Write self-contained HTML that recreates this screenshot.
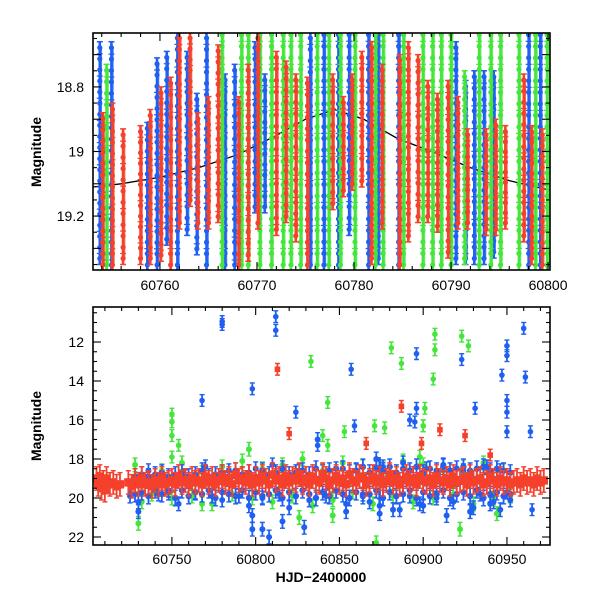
<!DOCTYPE html>
<html><head><meta charset="utf-8"><style>
html,body{margin:0;padding:0;background:#fff;}
svg{display:block;font-family:"Liberation Sans",sans-serif;}
</style></head><body>
<svg id="chart" width="600" height="600" viewBox="0 0 600 600" xmlns="http://www.w3.org/2000/svg">
<rect width="600" height="600" fill="#fff"/>
<g id="top-panel"></g>
<g id="bottom-panel"></g>
</svg>
<script>
// ---------- TOP PANEL DATA (columns: date, faint/bright limits) ----------
const topBlueDates=[60753.8,60755.0,60758.7,60759.7,60760.7,60761.8,60762.8,60763.8,60764.8,60766.7,60767.7,60769.8,60770.8,60775.5,60776.9,60778.4,60779.5,60781.5,60782.5,60784.6,60790.5,60791.5,60792.4,60793.4,60794.4,60798.0,60799.2];
const topBlueLo=[18.66,18.66,18.91,18.71,18.69,18.63,18.69,18.82,18.63,18.76,18.73,18.66,18.76,18.63,18.62,18.62,18.62,18.62,18.62,18.62,18.66,18.78,18.75,18.75,18.75,18.62,18.62];
const topBlueHi=[19.35,19.37,19.37,19.37,19.29,19.37,19.26,19.32,19.37,19.37,19.37,19.19,19.19,19.37,19.37,19.37,19.26,19.37,19.35,19.37,19.35,19.35,19.35,19.35,19.33,19.37,19.37];
const topRedDates=[60754.1,60755.1,60756.2,60758.0,60759.0,60760.1,60761.1,60762.0,60763.1,60763.9,60765.0,60766.0,60768.1,60769.1,60770.1,60772.0,60773.0,60774.0,60775.2,60777.8,60778.9,60779.8,60780.8,60781.8,60782.9,60784.7,60785.6,60786.6,60787.6,60788.6,60789.7,60790.7,60791.7,60793.6,60794.6,60795.6,60797.5,60798.3,60799.4];
const topRedLo=[18.88,18.85,18.93,18.92,18.87,18.80,18.77,18.63,18.63,18.88,18.83,18.67,18.83,18.73,18.63,18.69,18.72,18.76,18.77,18.76,18.83,18.76,18.69,18.66,18.73,18.70,18.66,18.70,18.78,18.82,18.78,18.83,18.93,18.93,18.90,18.92,18.76,18.92,18.93];
const topRedHi=[19.37,19.37,19.35,19.35,19.35,19.34,19.37,19.24,19.17,19.24,19.24,19.22,19.37,19.34,19.24,19.26,19.22,19.28,19.37,19.18,19.14,19.12,19.11,19.35,19.24,19.37,19.28,19.22,19.22,19.25,19.33,19.24,19.24,19.26,19.26,19.24,19.28,19.35,19.37];
const topGreenDates=[60754.5,60766.4,60768.4,60769.1,60770.3,60771.5,60772.7,60773.5,60774.5,60776.2,60777.4,60778.6,60780.1,60782.2,60783.0,60785.1,60787.1,60788.1,60789.0,60790.0,60791.4,60792.9,60794.1,60795.1,60797.0,60798.7,60799.9];
const topGreenLo=[18.73,18.62,18.62,18.62,18.62,18.62,18.62,18.62,18.62,18.62,18.62,18.62,18.62,18.62,18.62,18.62,18.62,18.62,18.62,18.62,18.75,18.62,18.62,18.62,18.62,18.62,18.62];
const topGreenHi=[19.37,19.37,19.37,19.37,19.37,19.37,19.37,19.37,19.37,19.37,19.37,19.37,19.37,19.37,19.37,19.37,19.37,19.37,19.37,19.37,19.35,19.37,19.37,19.37,19.37,19.37,19.37];
const modelDates=[60753.1,60756,60760,60764,60768,60772,60775,60778,60781,60784.5,60788,60792,60796,60800.2];
const modelMags=[19.11,19.10,19.08,19.05,19.01,18.95,18.90,18.87,18.90,18.96,19.00,19.05,19.09,19.12];
const topXTicks=[60760,60770,60780,60790,60800];
const topXLabels=["60760","60770","60780","60790","60800"];
const topYTicks=[18.8,19.0,19.2];
const topYLabels=["18.8","19","19.2"];

// ---------- BOTTOM PANEL DATA ----------
const redDates=[60705,60706,60707,60708,60709,60710,60711,60713,60715,60717,60719,
60724,60726,60728,60730,60732,60734,60736,60738,60740,60742,60744,60746,60748,60750,60752,60754,60756,60758,60760,60762,60764,60766,60768,60770,60772,60774,60776,60778,60780,60782,60784,60786,60788,60790,60792,60794,60796,60798,60800,60802,60804,60806,60808,60810,60812,60814,60816,60818,60820,60822,60824,60826,60828,60830,60832,60834,60836,60838,60840,60842,60844,60846,60848,60850,60852,60854,60856,60858,60860,60862,60864,60866,60868,60870,60872,60874,60876,60878,60880,60882,60884,60886,60888,60890,60892,60894,60896,60898,60900,60902,60904,60906,60908,60910,60912,60914,60916,60918,60920,60922,60924,60926,60928,60930,60932,60934,60936,60938,60940,60942,60944,60946,60948,60950,60952,60954,60956,60958,60960,60962,60964,60966,60968,60970,60972];
const redMags=[19.0,19.3,18.9,19.5,19.2,19.6,19.0,19.3,19.2,19.4,19.3,
19.2,19.4,19.1,19.3,19.0,19.3,19.2,19.4,19.1,19.3,19.0,19.3,19.2,19.1,19.3,18.9,19.2,19.1,19.3,19.0,19.2,19.1,19.3,18.9,19.2,19.0,19.3,19.1,18.9,19.2,19.0,19.3,18.8,19.1,19.0,19.2,18.9,19.3,19.0,19.2,18.9,19.1,19.3,18.8,19.1,19.0,19.3,18.9,19.2,19.0,19.1,18.8,19.2,19.0,19.3,18.9,19.1,19.2,18.8,19.0,19.3,19.1,18.9,19.2,19.0,19.3,18.8,19.1,19.2,18.9,19.0,19.3,19.1,18.9,19.2,19.0,19.3,19.1,18.8,19.2,19.0,19.3,19.1,18.9,19.2,19.0,19.3,18.9,19.1,19.2,19.0,19.3,18.9,19.1,19.2,19.0,19.3,18.9,19.2,19.1,19.0,19.3,18.9,19.2,19.1,19.0,19.3,19.2,18.9,19.1,19.3,19.0,19.2,19.1,19.3,19.2,
19.1,19.3,19.0,19.2,19.1,19.3,19.0,19.2,19.1];
const redOutDates=[60813,60820,60887,60899,60910,60925,60940,60866];
const redOutMags=[13.4,16.7,15.3,17.2,16.5,16.8,17.8,17.2];
const blueDenseDates=[60728,60732,60736,60740,60744,60748,60752,60756,60760,60764,60768,60772,60776,60780,60784,60788,60792,60796,60800,60804,60808,60812,60816,60820,60824,60828,60832,60836,60840,60844,60848,60852,60856,60860,60864,60868,60872,60876,60880,60884,60888,60892,60896,60900,60904,60908,60912,60916,60920,60924,60928,60932,60936,60940,60944,60948,60952];
const blueDenseLow=[19.8,19.7,19.9,19.6,19.8,19.7,20.0,19.6,19.9,19.7,19.8,19.6,20.0,19.7,19.8,19.9,19.6,20.0,19.7,19.9,19.8,19.6,20.0,19.7,19.9,19.6,19.8,20.0,19.7,19.9,19.6,19.8,20.0,19.7,19.9,19.8,19.6,20.0,19.7,19.9,19.8,19.6,20.0,19.7,19.9,19.8,19.6,20.0,19.8,19.7,19.9,19.6,20.0,19.8,19.7,19.9,19.8];
const blueDenseHigh=[18.9,18.8,18.9,18.8,18.7,18.9,18.8,18.7,18.9,18.8,18.6,18.9,18.8,18.7,18.9,18.6,18.8,18.7,18.9,18.6,18.8,18.7,18.5,18.8,18.7,18.6,18.8,18.5,18.7,18.6,18.8,18.5,18.7,18.6,18.4,18.7,18.5,18.6,18.4,18.7,18.5,18.6,18.4,18.7,18.5,18.6,18.4,18.6,18.5,18.4,18.6,18.5,18.4,18.6,18.5,18.6,18.7];
const blueDates=[60725,60730,60730,60736,60742,60748,60754,60758,60764,60770,60774,60780,60784,60790,60796,60800,60804,60810,60814,60820,60826,60832,60837,60842,60848,60854,60860,60864,60868,60872,60874,60874,60876,60882,60888,60892,60898,60902,60908,60912,60918,60924,60930,60934,60938,60942,60946,60950,60952,60798,60798,60804,60808,60816,60829,60854,60874,60886,60900,60914,60928,60940,60946];
const blueMags=[19.9,20.7,20.2,18.6,19.8,19.6,20.3,18.9,19.7,18.4,19.9,20.1,18.6,19.9,20.4,18.5,20.0,18.3,19.8,20.5,18.6,20.1,17.0,19.9,18.5,20.3,18.6,19.8,20.2,18.0,20.4,19.0,18.4,20.6,18.2,19.9,20.3,18.5,20.0,18.3,20.2,18.6,20.5,19.8,18.4,20.2,18.6,19.7,20.1,21.6,20.9,21.6,22.0,21.2,21.5,20.7,20.8,20.6,20.4,20.9,20.7,20.3,20.6];
const blueOutDates=[60780,60780,60812,60812,60768,60798,60824,60837,60857,60859,60896,60896,60923,60931,60947,60950,60950,60950,60950,60950,60960,60961,60964,60965,60895,60892];
const blueOutMags=[11.1,10.95,10.7,11.4,15.0,14.4,15.6,17.3,13.4,16.3,12.6,15.4,12.9,15.4,13.7,12.2,12.7,15.0,15.6,16.6,11.3,13.8,16.6,20.6,16.1,16.0];
const greenDates=[60728,60732,60738,60744,60750,60756,60762,60768,60774,60780,60786,60792,60798,60804,60810,60816,60822,60828,60834,60840,60846,60852,60858,60864,60870,60876,60882,60888,60894,60900,60906,60912,60918,60924,60930,60936,60942,60948,60952,60730,60768,60796,60826,60846,60872,60898,60922,60944];
const greenMags=[18.3,20.2,19.8,18.6,20.0,18.2,19.9,18.7,20.3,18.4,19.8,18.1,20.0,18.5,20.2,18.3,19.9,18.0,20.4,18.6,20.1,18.2,19.7,18.4,20.3,18.5,19.9,18.1,20.2,18.3,20.0,18.6,19.8,18.4,20.3,18.2,20.0,18.6,19.9,21.3,20.3,17.5,21.0,20.9,22.3,17.9,21.6,20.8];
const greenOutDates=[60750,60750,60750,60754,60750,60833,60843,60843,60840,60881,60887,60907,60907,60906,60923,60927,60871,60877,60853,60901,60900,60900];
const greenOutMags=[15.7,16.1,16.8,17.3,17.9,13.0,15.1,17.3,16.8,12.3,13.1,11.6,12.4,13.9,11.7,12.2,16.3,16.4,16.6,15.4,16.3,16.3];
const streakDate=60874;
const streakRange=[17.9,20.4];
const botXTicks=[60750,60800,60850,60900,60950];
const botXLabels=["60750","60800","60850","60900","60950"];
const botYTicks=[12,14,16,18,20,22];
const botYLabels=["12","14","16","18","20","22"];

const NS="http://www.w3.org/2000/svg";
const BLUE="#1f5ff2",RED="#f5402c",GREEN="#45e63c";
function mk(tag,attrs,parent){const e=document.createElementNS(NS,tag);for(const k in attrs)e.setAttribute(k,attrs[k]);parent.appendChild(e);return e;}
function lin(d0,d1,r0,r1){return v=>r0+(v-d0)/(d1-d0)*(r1-r0);}

// ---------- TOP PANEL ----------
const T={l:93,r:550,t:33,b:270};
const tx=lin(60753.1,60800.2,T.l,T.r), ty=lin(18.633,19.367,T.t,T.b);
const topG=document.getElementById('top-panel');
const cpT=mk('clipPath',{id:'clipT'},topG);
mk('rect',{x:T.l,y:T.t,width:T.r-T.l,height:T.b-T.t},cpT);
const topData=mk('g',{'clip-path':'url(#clipT)'},topG);


let dpath='';modelDates.forEach((d,i)=>{dpath+=(i?'L':'M')+tx(d).toFixed(1)+' '+ty(modelMags[i]).toFixed(1);});
const curve=mk('path',{d:dpath,fill:'none',stroke:'#000','stroke-width':1.3},topData);


function drawColumns(dates,lo,hi,color,name){
  const g=mk('g',{},topData);
  
  
  dates.forEach((d,i)=>{
    const x=tx(d),y0=ty(lo[i]),y1=ty(hi[i]);
    const c=mk('g',{},g);
    
    
    mk('line',{x1:x,x2:x,y1:y0,y2:y1,stroke:color,'stroke-width':2.6},c);
    mk('line',{x1:x+1.6,x2:x+1.6,y1:y0+6,y2:y1-6,stroke:color,'stroke-width':1.3,opacity:0.8},c);
    mk('line',{x1:x-3,x2:x+3,y1:y0,y2:y0,stroke:color,'stroke-width':1.5},c);
    mk('line',{x1:x-3,x2:x+3,y1:y1,y2:y1,stroke:color,'stroke-width':1.5},c);
    const n=Math.max(2,Math.round((y1-y0)/12));
    for(let k=0;k<=n;k++){
      const yy=y0+6+(y1-y0-12)*k/n;
      mk('circle',{cx:x,cy:yy,r:2.6,fill:color},c);
      if(k%2) mk('line',{x1:x-3,x2:x+3,y1:yy-5,y2:yy-5,stroke:color,'stroke-width':1.2},c);
    }
  });
}
drawColumns(topBlueDates,topBlueLo,topBlueHi,BLUE,'top-blue-series');
drawColumns(topGreenDates,topGreenLo,topGreenHi,GREEN,'top-green-series');
drawColumns(topRedDates,topRedLo,topRedHi,RED,'top-red-series');

function frame(g,P,xTicks,xs,ys,xMinor,xMinorStep,yMinorRange,yMinorStep,yMajStep){
  const f=mk('rect',{x:P.l,y:P.t,width:P.r-P.l,height:P.b-P.t,fill:'none',stroke:'#000','stroke-width':1.6},g);
  
  
  const tk=mk('g',{stroke:'#000','stroke-width':1.1},g);
  
  
  for(let v=xMinor[0];v<=xMinor[1]+1e-9;v+=xMinorStep){
    const x=xs(v); if(x<P.l-0.5||x>P.r+0.5) continue;
    const isMaj=xTicks.some(t=>Math.abs(t-v)<1e-6);
    const L=isMaj?8:4;
    mk('line',{x1:x,x2:x,y1:P.b,y2:P.b-L},tk);mk('line',{x1:x,x2:x,y1:P.t,y2:P.t+L},tk);
  }
  for(let v=yMinorRange[0];v<=yMinorRange[1]+1e-9;v+=yMinorStep){
    const y=ys(v); if(y<P.t-0.5||y>P.b+0.5) continue;
    const r=Math.abs(v/yMajStep-Math.round(v/yMajStep));
    const L=r<1e-6?8:4;
    mk('line',{x1:P.l,x2:P.l+L,y1:y,y2:y},tk);mk('line',{x1:P.r,x2:P.r-L,y1:y,y2:y},tk);
  }
}
frame(topG,T,topXTicks,tx,ty,[60754,60800],2,[18.65,19.35],0.05,0.1);
topXTicks.forEach((v,i)=>{const t=mk('text',{x:tx(v),y:290,'text-anchor':'middle','font-size':14},topG);t.textContent=topXLabels[i];

});
topYTicks.forEach((v,i)=>{const t=mk('text',{x:84,y:ty(v)+5,'text-anchor':'end','font-size':14},topG);t.textContent=topYLabels[i];

});
const tyl=mk('text',{x:0,y:0,transform:'translate(41,152) rotate(-90)','text-anchor':'middle','font-size':14,'font-weight':'bold'},topG);
tyl.textContent='Magnitude';



// ---------- BOTTOM PANEL ----------
const B={l:93,r:550,t:307,b:545};
const bx=lin(60702.9,60975.7,B.l,B.r), by=lin(12,22,342,537);
const bot=document.getElementById('bottom-panel');
const cp=mk('clipPath',{id:'clipB'},bot);mk('rect',{x:B.l,y:B.t,width:B.r-B.l,height:B.b-B.t},cp);
const botData=mk('g',{'clip-path':'url(#clipB)'},bot);


function drawPts(dates,mags,color,name,err,shape,size){
  const g=mk('g',{},botData);
  
  
  dates.forEach((d,i)=>{
    const x=bx(d),y=by(mags[i]),e=err*19.5;
    mk('line',{x1:x,x2:x,y1:y-e,y2:y+e,stroke:color,'stroke-width':1.8},g);
    mk('line',{x1:x-2.5,x2:x+2.5,y1:y-e,y2:y-e,stroke:color,'stroke-width':1.4},g);
    mk('line',{x1:x-2.5,x2:x+2.5,y1:y+e,y2:y+e,stroke:color,'stroke-width':1.4},g);
    const p=shape==='sq'?mk('rect',{x:x-size,y:y-size,width:size*2,height:size*2,fill:color},g):mk('circle',{cx:x,cy:y,r:size,fill:color},g);
    
    
  });
}
drawPts(greenDates,greenMags,GREEN,'green-band-series',0.35,'c',3);
drawPts(blueDates,blueMags,BLUE,'blue-band-series',0.35,'c',3);
drawPts(blueDenseDates,blueDenseLow,BLUE,'blue-dense-low-series',0.4,'c',3.2);
drawPts(blueDenseDates,blueDenseHigh,BLUE,'blue-dense-high-series',0.4,'c',3.2);
drawPts(greenOutDates,greenOutMags,GREEN,'green-outliers',0.3,'c',2.8);
drawPts(blueOutDates,blueOutMags,BLUE,'blue-outliers',0.3,'c',2.8);
const st=mk('line',{x1:bx(streakDate),x2:bx(streakDate),y1:by(streakRange[0]),y2:by(streakRange[1]),stroke:BLUE,'stroke-width':2.5},botData);


drawPts(redDates,redMags,RED,'red-band-series',0.6,'sq',4.2);
drawPts(redOutDates,redOutMags,RED,'red-outliers',0.3,'sq',2.8);
frame(bot,B,botXTicks,bx,by,[60710,60970],10,[10.5,22.5],0.5,2);
botXTicks.forEach((v,i)=>{const t=mk('text',{x:bx(v),y:564,'text-anchor':'middle','font-size':14},bot);t.textContent=botXLabels[i];

});
botYTicks.forEach((v,i)=>{const t=mk('text',{x:84,y:by(v)+5,'text-anchor':'end','font-size':14},bot);t.textContent=botYLabels[i];

});
const byl=mk('text',{x:0,y:0,transform:'translate(41,426) rotate(-90)','text-anchor':'middle','font-size':14,'font-weight':'bold'},bot);
byl.textContent='Magnitude';


const bxl=mk('text',{x:321,y:582,'text-anchor':'middle','font-size':14,'font-weight':'bold'},bot);
bxl.textContent='HJD\u22122400000';


</script>
</body></html>
